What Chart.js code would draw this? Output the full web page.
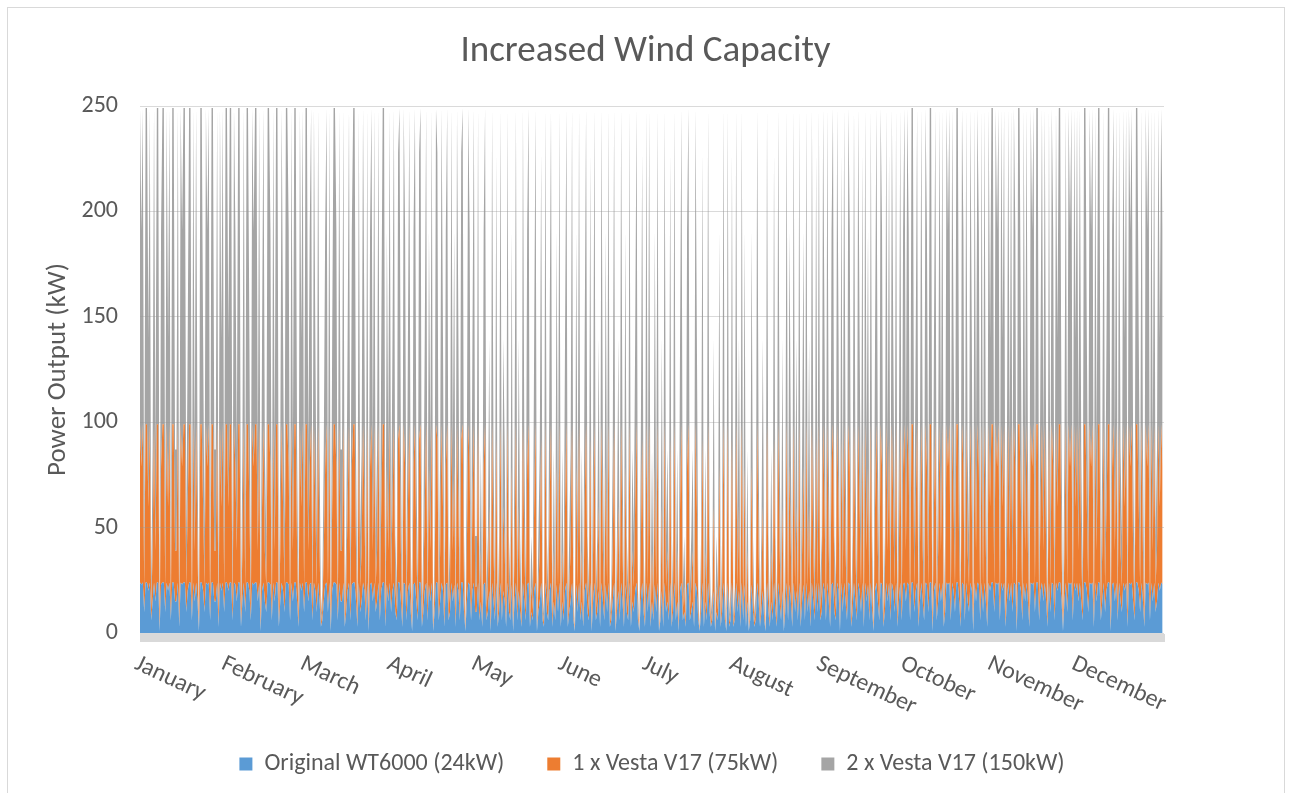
<!DOCTYPE html>
<html>
<head>
<meta charset="utf-8">
<title>Increased Wind Capacity</title>
<script src="https://cdn.jsdelivr.net/npm/chart.js@4/dist/chart.umd.min.js"></script>
<style>
  html, body { margin: 0; padding: 0; background: #ffffff; }
  #wrap { width: 1291px; height: 793px; }
</style>
</head>
<body>
<div id="wrap"><canvas id="c" width="1291" height="793"></canvas></div>
<script>
// Half-day power output (kW) over one year, one value every 12 hours.
const STEP_HOURS = 12;

const wt6000 = [
  // Jan
  24,23,24,10,24,24,20,24,6,15, 24,15,24,24,1,23,24,24,10,24, 20,24,6,24,24,15,15,24,3,24,
  23,24,24,10,20,24,24,6,24,15, 24,15,1,24,24,20,10,24,23,24, 6,24,24,15,15,24,3,24,20,24, 10,24,
  // Feb
  24,20,24,24,6,24,23,15,24,24, 3,15,24,10,24,24,20,6,24,23, 24,24,15,24,1,20,24,15,10,24,
  24,23,6,24,15,24,24,3,15,24, 20,10,24,24,23,6,24,15,24,24, 15,3,24,20,24,10,
  // Mar
  24,24,15,23,24,6,24,20,10,24, 15,3,6,15,23,24,10,24,1,20, 24,24,23,6,24,15,15,24,3,10,
  20,24,6,23,24,24,15,3,24,10, 15,24,20,6,24,1,23,24,15,24, 10,15,24,6,20,24,24,3,23,15, 24,10,
  // Apr
  20,24,10,6,24,24,15,3,24,23, 6,20,24,10,1,23,24,15,6,24, 24,3,10,20,24,6,23,15,24,1,
  10,24,24,6,15,24,20,3,23,24, 6,10,24,15,23,3,24,20,6,24, 24,10,1,15,24,23,6,20,24,10,
  // May
  10,24,6,15,3,23,24,6,10,20, 1,24,15,6,24,3,10,24,6,20, 15,3,24,10,6,23,1,15,24,6,
  20,10,3,24,15,6,23,24,3,10, 6,20,24,1,10,15,24,6,3,24, 10,6,20,24,3,15,6,23,10,24, 3,15,
  // Jun
  6,20,24,3,10,15,24,6,1,23, 10,24,6,15,3,20,24,10,6,24, 1,15,24,6,10,20,3,24,15,6,
  23,10,24,3,6,15,24,1,10,20, 6,24,15,3,23,10,6,24,3,15, 10,20,24,6,1,15,24,10,3,24,
  // Jul
  10,24,3,15,6,23,10,24,1,6, 20,3,24,10,15,6,24,3,10,24, 6,15,1,20,24,6,10,3,23,24,
  6,10,15,3,24,20,6,1,10,24, 3,15,6,24,10,3,6,20,1,10, 6,23,3,10,24,6,1,24,3,6, 24,3,
  // Aug
  6,24,10,20,3,24,6,23,3,15, 1,6,23,10,3,6,24,15,3,10, 20,6,1,24,10,3,15,6,24,10,
  3,24,15,6,20,1,10,24,6,23, 15,3,24,10,20,6,24,3,15,23, 6,24,10,20,3,24,15,6,24,10, 24,6,
  // Sep
  10,24,20,6,24,15,3,23,24,10, 6,24,20,1,24,10,24,15,6,24, 23,3,10,24,15,6,24,20,10,24,
  3,24,15,23,6,24,10,1,20,24, 15,6,24,23,3,10,24,15,24,6, 24,20,10,24,3,15,24,6,23,24,
  // Oct
  15,24,23,6,24,24,10,20,24,3, 15,24,15,6,24,23,10,24,24,1, 20,24,6,15,24,15,24,3,10,24,
  23,24,6,24,20,10,24,24,15,3, 24,23,6,24,15,10,24,20,1,24, 15,24,23,6,24,10,24,15,3,24, 20,24,
  // Nov
  24,10,24,23,24,6,24,20,24,3, 15,24,15,24,10,24,23,1,24,24, 20,6,24,15,24,15,3,24,23,24,
  10,24,24,6,20,24,15,24,15,3, 24,10,24,23,6,24,20,24,24,15, 1,15,24,10,24,23,24,6,24,20,
  // Dec
  24,15,24,15,6,24,24,20,10,24, 23,24,3,24,15,24,24,6,15,24, 10,20,24,24,1,23,24,15,24,6,
  24,15,10,24,20,24,3,24,23,24, 15,6,24,24,20,10,24,15,3,24, 23,24,6,24,15,24,10,15,24,20, 24,23
];

const vesta1 = [
  // Jan
  75,56,75,12,75,75,40,75,5,24, 75,24,75,75,0,56,75,75,12,75, 40,75,5,75,75,24,24,75,2,75,
  56,75,75,12,40,75,75,5,75,24, 75,24,0,75,75,40,12,75,56,75, 5,75,75,24,24,75,2,75,40,75, 12,75,
  // Feb
  75,40,75,75,5,75,56,24,75,75, 2,24,75,12,75,75,40,5,75,56, 75,75,24,75,0,40,75,24,12,75,
  75,56,5,75,24,75,75,2,24,75, 40,12,75,75,56,5,75,24,75,75, 24,2,75,40,75,12,
  // Mar
  75,75,24,56,75,5,75,40,12,75, 24,2,5,24,56,75,12,75,0,40, 75,75,56,5,75,24,24,75,2,12,
  40,75,5,56,75,75,24,2,75,12, 24,75,40,5,75,0,56,75,24,75, 12,24,75,5,40,75,75,2,56,24, 75,12,
  // Apr
  40,75,12,5,68,75,24,2,75,56, 5,40,75,12,0,56,75,24,5,68, 75,2,12,40,75,5,56,24,75,0,
  12,75,68,5,24,75,40,2,56,75, 5,12,75,24,56,2,75,40,5,68, 75,12,0,24,75,56,5,40,75,12,
  // May
  12,75,5,24,2,56,75,5,12,40, 0,75,24,5,68,2,12,75,5,40, 24,2,75,12,5,56,0,24,75,5,
  40,12,2,75,24,5,56,75,2,12, 5,40,75,0,12,24,68,5,2,75, 12,5,40,75,2,24,5,56,12,75, 2,24,
  // Jun
  5,40,75,2,12,24,75,5,0,56, 12,75,5,24,2,40,75,12,5,68, 0,24,75,5,12,40,2,75,24,5,
  56,12,75,2,5,24,75,0,12,40, 5,75,24,2,56,12,5,75,2,24, 12,40,75,5,0,24,68,12,2,75,
  // Jul
  12,75,2,24,5,56,12,75,0,5, 40,2,75,12,24,5,68,2,12,75, 5,24,0,40,75,5,12,2,56,75,
  5,12,24,2,75,40,5,0,12,68, 2,24,5,75,12,2,5,40,0,12, 5,56,2,12,75,5,0,75,2,5, 68,2,
  // Aug
  5,75,12,40,2,75,5,56,2,24, 0,5,56,12,2,5,75,24,2,12, 40,5,0,75,12,2,24,5,68,12,
  2,75,24,5,40,0,12,75,5,56, 24,2,75,12,40,5,75,2,24,56, 5,75,12,40,2,75,24,5,68,12, 75,5,
  // Sep
  12,75,40,5,75,24,2,56,75,12, 5,75,40,0,68,12,75,24,5,75, 56,2,12,75,24,5,75,40,12,68,
  2,75,24,56,5,75,12,0,40,75, 24,5,75,56,2,12,75,24,68,5, 75,40,12,75,2,24,75,5,56,75,
  // Oct
  24,75,56,5,75,75,12,40,75,2, 24,75,24,5,75,56,12,75,75,0, 40,75,5,24,75,24,75,2,12,75,
  56,75,5,75,40,12,75,75,24,2, 75,56,5,75,24,12,75,40,0,75, 24,75,56,5,75,12,75,24,2,75, 40,75,
  // Nov
  75,12,75,56,75,5,75,40,75,2, 24,75,24,75,12,75,56,0,75,75, 40,5,75,24,75,24,2,75,56,75,
  12,75,75,5,40,75,24,75,24,2, 75,12,75,56,5,75,40,75,75,24, 0,24,75,12,75,56,75,5,75,40,
  // Dec
  75,24,75,24,5,75,75,40,12,75, 56,75,2,75,24,75,75,5,24,75, 12,40,75,75,0,56,75,24,75,5,
  75,24,12,75,40,75,2,75,56,75, 24,5,75,75,40,12,75,24,2,75, 56,75,5,75,24,75,12,24,75,40, 75,56
];

const vesta2 = [
  // Jan
  150,112,150,24,150,150,80,150,10,48, 150,48,150,150,0,112,150,150,24,150, 80,150,10,150,150,48,48,150,4,150,
  112,150,150,24,80,150,150,10,150,48, 150,48,0,150,150,80,24,150,112,150, 10,150,150,48,48,150,4,150,80,150, 24,150,
  // Feb
  150,80,150,150,10,150,112,48,150,150, 4,48,150,24,150,150,80,10,150,112, 150,150,48,150,0,80,150,48,24,150,
  150,112,10,150,48,150,150,4,48,150, 80,24,150,150,112,10,150,48,150,150, 48,4,150,80,150,24,
  // Mar
  150,150,48,112,150,10,150,80,24,150, 48,4,10,48,112,150,24,150,0,80, 150,150,112,10,150,48,48,150,4,24,
  80,150,10,112,150,150,48,4,150,24, 48,150,80,10,150,0,112,150,48,150, 24,48,150,10,80,150,150,4,112,48, 150,24,
  // Apr
  80,150,24,10,136,150,48,4,150,112, 10,80,150,24,0,112,150,48,10,136, 150,4,24,80,150,10,112,48,150,0,
  24,150,136,10,48,150,80,4,112,150, 10,24,150,48,112,4,150,80,10,136, 150,24,0,48,150,112,10,80,150,24,
  // May
  24,150,10,48,4,112,150,10,24,80, 0,150,48,10,136,4,24,150,10,80, 48,4,150,24,10,112,0,48,150,10,
  80,24,4,150,48,10,112,150,4,24, 10,80,150,0,24,48,136,10,4,150, 24,10,80,150,4,48,10,112,24,150, 4,48,
  // Jun
  10,80,150,4,24,48,150,10,0,112, 24,150,10,48,4,80,150,24,10,136, 0,48,150,10,24,80,4,150,48,10,
  112,24,150,4,10,48,150,0,24,80, 10,150,48,4,112,24,10,150,4,48, 24,80,150,10,0,48,136,24,4,150,
  // Jul
  24,150,4,48,10,112,24,150,0,10, 80,4,150,24,48,10,136,4,24,150, 10,48,0,80,150,10,24,4,112,150,
  10,24,48,4,150,80,10,0,24,136, 4,48,10,150,24,4,10,80,0,24, 10,112,4,24,150,10,0,150,4,10, 136,4,
  // Aug
  10,150,24,80,4,150,10,112,4,48, 0,10,112,24,4,10,150,48,4,24, 80,10,0,150,24,4,48,10,136,24,
  4,150,48,10,80,0,24,150,10,112, 48,4,150,24,80,10,150,4,48,112, 10,150,24,80,4,150,48,10,136,24, 150,10,
  // Sep
  24,150,80,10,150,48,4,112,150,24, 10,150,80,0,136,24,150,48,10,150, 112,4,24,150,48,10,150,80,24,136,
  4,150,48,112,10,150,24,0,80,150, 48,10,150,112,4,24,150,48,136,10, 150,80,24,150,4,48,150,10,112,150,
  // Oct
  48,150,112,10,150,150,24,80,150,4, 48,150,48,10,150,112,24,150,150,0, 80,150,10,48,150,48,150,4,24,150,
  112,150,10,150,80,24,150,150,48,4, 150,112,10,150,48,24,150,80,0,150, 48,150,112,10,150,24,150,48,4,150, 80,150,
  // Nov
  150,24,150,112,150,10,150,80,150,4, 48,150,48,150,24,150,112,0,150,150, 80,10,150,48,150,48,4,150,112,150,
  24,150,150,10,80,150,48,150,48,4, 150,24,150,112,10,150,80,150,150,48, 0,48,150,24,150,112,150,10,150,80,
  // Dec
  150,48,150,48,10,150,150,80,24,150, 112,150,4,150,48,150,150,10,48,150, 24,80,150,150,0,112,150,48,150,10,
  150,48,24,150,80,150,4,150,112,150, 48,10,150,150,80,24,150,48,4,150, 112,150,10,150,48,150,24,48,150,80, 150,112
];

const seriesNames = ['Original WT6000 (24kW)', '1 x Vesta V17 (75kW)', '2 x Vesta V17 (150kW)'];
const seriesColors = ['#5b9bd5', '#ed7d31', '#a5a5a5'];
const monthNames = ['January','February','March','April','May','June','July','August','September','October','November','December'];
const monthStartHours = [0, 744, 1416, 2160, 2880, 3624, 4344, 5088, 5832, 6552, 7296, 8016];
const yTicks = [0, 50, 100, 150, 200, 250];

const FONT = 'Calibri, Carlito, Lato, "Open Sans", sans-serif';
const TEXT = '#595959';

const toPoints = arr => arr.map((v, i) => ({ x: i * STEP_HOURS, y: v }));

// Outer frame, zero band under the plot and rotated month labels
const framePlugin = {
  id: 'frame',
  beforeDraw(chart) {
    const c = chart.ctx;
    c.save();
    c.fillStyle = '#ffffff';
    c.fillRect(0, 0, chart.width, chart.height);
    c.strokeStyle = '#d9d9d9';
    c.lineWidth = 1;
    c.strokeRect(7.5, 7.5, chart.width - 14, chart.height + 10);
    c.restore();
  },
  afterDraw(chart) {
    const c = chart.ctx;
    const a = chart.chartArea;
    const xs = chart.scales.x;
    c.save();
    c.fillStyle = '#d9d9d9';
    c.fillRect(a.left, a.bottom + 1, a.right - a.left + 1, 8);
    c.fillStyle = TEXT;
    c.font = '24px ' + FONT;
    c.textAlign = 'left';
    c.textBaseline = 'top';
    monthNames.forEach((m, i) => {
      const px = xs.getPixelForValue(monthStartHours[i]);
      c.save();
      c.translate(px + 1, a.bottom + 19);
      c.rotate(25 * Math.PI / 180);
      c.fillText(m, 0, 0);
      c.restore();
    });
    c.restore();
  }
};

new Chart(document.getElementById('c'), {
  type: 'line',
  data: {
    datasets: [wt6000, vesta1, vesta2].map((arr, i) => ({
      label: seriesNames[i],
      data: toPoints(arr),
      backgroundColor: seriesColors[i],
      borderColor: 'rgba(0,0,0,0)',
      borderWidth: 0,
      fill: i === 0 ? 'origin' : '-1',
      pointRadius: 0,
      tension: 0
    }))
  },
  options: {
    responsive: false,
    animation: false,
    devicePixelRatio: 1,
    layout: { padding: { left: 0, right: 0, top: 0, bottom: 7 } },
    plugins: {
      title: {
        display: true,
        text: 'Increased Wind Capacity',
        color: TEXT,
        font: { family: FONT, size: 37, weight: 'normal' },
        padding: { top: 30, bottom: 31.6 }
      },
      legend: {
        position: 'bottom',
        fullSize: false,
        labels: {
          color: TEXT,
          font: { family: FONT, size: 24 },
          boxWidth: 13,
          boxHeight: 13,
          padding: 43
        }
      },
      tooltip: { enabled: false }
    },
    scales: {
      x: {
        type: 'linear',
        min: 0,
        max: 8760,
        ticks: { display: false },
        grid: { display: false },
        border: { display: false },
        afterFit: s => { s.height = 76; }
      },
      y: {
        stacked: true,
        min: 0,
        max: 250,
        afterBuildTicks: s => { s.ticks = yTicks.map(v => ({ value: v })); },
        ticks: { color: TEXT, font: { family: FONT, size: 24 }, padding: 22 },
        grid: { color: 'rgba(150,150,150,0.35)', drawTicks: false, z: 1 },
        border: { display: false },
        title: {
          display: true,
          text: 'Power Output (kW)',
          color: TEXT,
          font: { family: FONT, size: 27 },
          padding: { top: 41.8, bottom: 0 }
        },
        afterFit: s => { s.width = 140; }
      },
      yRight: {
        position: 'right',
        ticks: { display: false },
        grid: { display: false },
        border: { display: false },
        afterFit: s => { s.width = 127; }
      }
    }
  },
  plugins: [framePlugin]
});
</script>
</body>
</html>
